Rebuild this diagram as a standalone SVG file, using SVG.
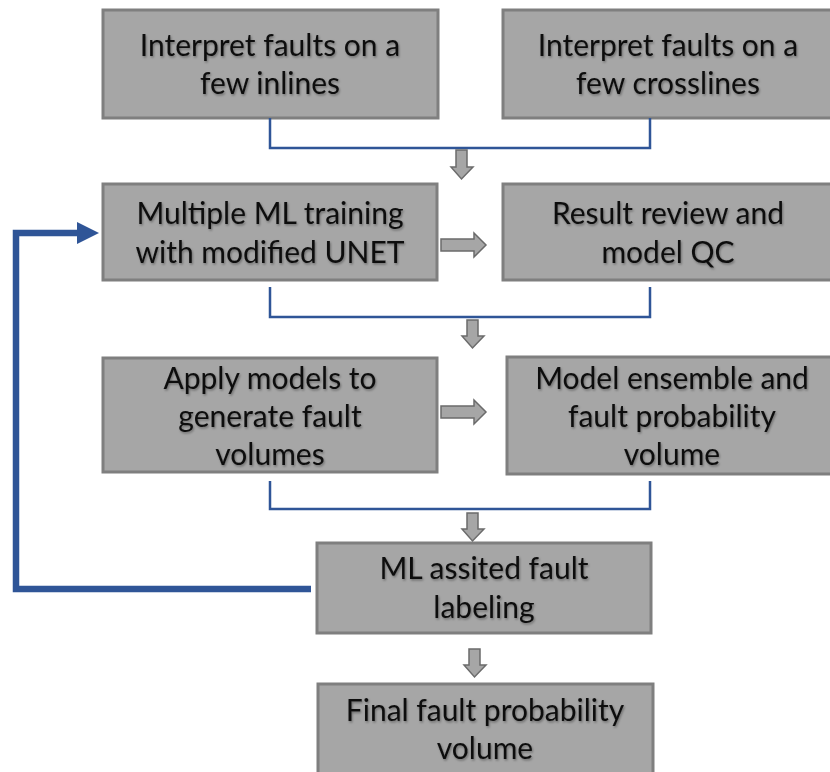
<svg xmlns="http://www.w3.org/2000/svg" width="830" height="772" viewBox="0 0 830 772">
<defs>
<style>
.box{fill:#A6A6A6;stroke:#7F7F7F;stroke-width:3}
.t{font-family:Lato,"Open Sans","Liberation Sans",sans-serif;font-size:30px;fill:#111;text-anchor:middle;filter:url(#sh)}
.br{fill:none;stroke:#2F5597;stroke-width:2.5}
.ga{fill:#A6A6A6;stroke:#6B6B6B;stroke-width:1.5}
</style>
<filter id="sh" x="-10%" y="-20%" width="120%" height="150%">
<feDropShadow dx="1" dy="1.5" stdDeviation="1" flood-color="#000" flood-opacity="0.35"/>
</filter>
</defs>
<g id="n1"><rect class="box" x="103" y="10" width="335" height="108"/><text class="t" x="270" y="56">Interpret faults on a</text><text class="t" x="270" y="94">few inlines</text></g>
<g id="n2"><rect class="box" x="503" y="10" width="332" height="108"/><text class="t" x="668" y="56">Interpret faults on a</text><text class="t" x="668" y="94">few crosslines</text></g>
<g id="n3"><rect class="box" x="103" y="184" width="334" height="96"/><text class="t" x="270" y="224">Multiple ML training</text><text class="t" x="270" y="263">with modified UNET</text></g>
<g id="n4"><rect class="box" x="503" y="184" width="332" height="96"/><text class="t" x="668" y="224">Result review and</text><text class="t" x="668" y="263">model QC</text></g>
<g id="n5"><rect class="box" x="103" y="358" width="334" height="114"/><text class="t" x="270" y="389">Apply models to</text><text class="t" x="270" y="427">generate fault</text><text class="t" x="270" y="465">volumes</text></g>
<g id="n6"><rect class="box" x="507" y="357" width="328" height="117"/><text class="t" x="672" y="389">Model ensemble and</text><text class="t" x="672" y="427">fault probability</text><text class="t" x="672" y="465">volume</text></g>
<g id="n7"><rect class="box" x="317" y="543" width="334" height="90"/><text class="t" x="484" y="579">ML assited fault</text><text class="t" x="484" y="618">labeling</text></g>
<g id="n8"><rect class="box" x="318" y="684" width="335" height="100"/><text class="t" x="485" y="721">Final fault probability</text><text class="t" x="485" y="759">volume</text></g>
<g id="connectors">
<path class="br" d="M270 118V148H650V118"/>
<path class="br" d="M270 287V317H650V287"/>
<path class="br" d="M270 481V509H650V481"/>
<path class="ga" d="M456 150H467V167H473L461.5 179L451 167H456Z"/>
<path class="ga" d="M467 320H478V336H484L472.5 348L462 336H467Z"/>
<path class="ga" d="M467 513H478V529H484L472.5 541L462 529H467Z"/>
<path class="ga" d="M469 649H480V665H486L474.5 677L464 665H469Z"/>
<path class="ga" d="M441 239H474V233L486 245L474 257V251H441Z"/>
<path class="ga" d="M441 406H474V400L486 412L474 424V418H441Z"/>
<path d="M311 589H16V233H80" fill="none" stroke="#2F5597" stroke-width="6.5"/>
<path d="M77 222L99 233L77 244Z" fill="#2F5597"/>
</g>
</svg>
